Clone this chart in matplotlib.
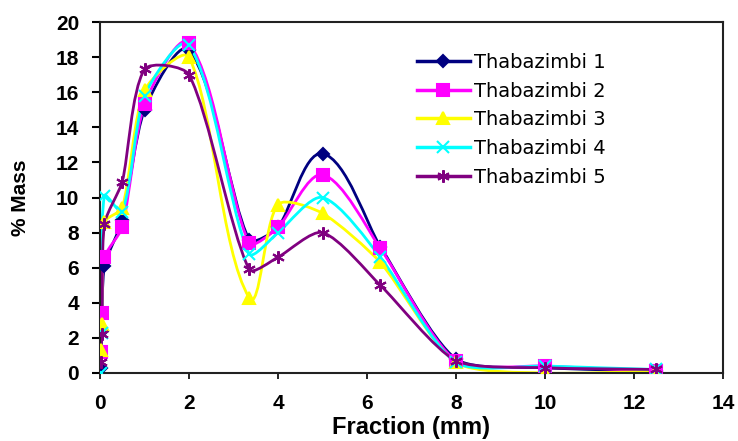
import matplotlib.pyplot as plt
import numpy as np
from matplotlib.path import Path
from matplotlib.patches import PathPatch
from matplotlib.lines import Line2D

# sieve fractions (mm) and % mass for each sample
fraction = [0.02, 0.04, 0.1, 0.5, 1, 2, 3.35, 4, 5, 6.3, 8, 10, 12.5]
thaba_1 = [0.3, 2.4, 6.1, 8.7, 15.0, 18.4, 7.6, 8.3, 12.5, 7.2, 0.8, 0.3, 0.1]
thaba_2 = [1.2, 3.4, 6.6, 8.3, 15.3, 18.8, 7.4, 8.3, 11.3, 7.1, 0.7, 0.4, 0.1]
thaba_3 = [1.3, 2.8, 8.6, 9.4, 16.1, 18.0, 4.3, 9.6, 9.1, 6.3, 0.6, 0.0, 0.1]
thaba_4 = [0.0, 2.3, 10.1, 9.2, 15.8, 18.7, 6.8, 8.0, 10.0, 6.6, 0.6, 0.4, 0.2]
thaba_5 = [0.6, 2.2, 8.5, 10.9, 17.3, 17.0, 5.9, 6.6, 8.0, 5.0, 0.7, 0.3, 0.2]

names = ["Thabazimbi 1", "Thabazimbi 2", "Thabazimbi 3", "Thabazimbi 4", "Thabazimbi 5"]
series = [thaba_1, thaba_2, thaba_3, thaba_4, thaba_5]
colors = ["#000080", "#FF00FF", "#FFFF00", "#00FFFF", "#800080"]
markers = ["D", "s", "^", "x", (6, 2, 0)]
msizes = [6, 8, 9, 8, 9]

plt.rcParams["font.family"] = ["Liberation Sans", "DejaVu Sans"]


def smooth_path(x, y, sx=44.5, sy=17.5, t=0.22):
    # excel-like smoothed line, control points worked out in screen-ish units
    p = np.column_stack([np.asarray(x) * sx, np.asarray(y) * sy]).astype(float)
    n = len(p)

    def tangent(i):
        a = p[max(i - 1, 0)]
        b = p[min(i + 1, n - 1)]
        d = b - a
        L = np.hypot(*d)
        return d / L if L > 0 else d

    verts = [p[0]]
    codes = [Path.MOVETO]
    for i in range(n - 1):
        seg = np.hypot(*(p[i + 1] - p[i]))
        c1 = p[i] + tangent(i) * seg * t
        c2 = p[i + 1] - tangent(i + 1) * seg * t
        verts += [c1, c2, p[i + 1]]
        codes += [Path.CURVE4] * 3
    verts = np.array(verts) / [sx, sy]
    return Path(verts, codes)


fig = plt.figure(figsize=(7.38, 4.41), dpi=100)
ax = fig.add_axes([100 / 738, 68 / 441, 623 / 738, 351 / 441])

handles = []
for ys, c, m, ms, name in zip(series, colors, markers, msizes, names):
    ax.add_patch(PathPatch(smooth_path(fraction, ys), fill=False, edgecolor=c, lw=2))
    ax.plot(fraction, ys, ls="none", marker=m, color=c, markersize=ms,
            markeredgewidth=1.5, zorder=3)
    handles.append(Line2D([], [], color=c, lw=2.5, marker=m, markersize=ms,
                          markeredgewidth=1.5))

ax.set_xlim(0, 14)
ax.set_ylim(0, 20)
ax.set_xticks(range(0, 15, 2))
ax.set_yticks(range(0, 21, 2))
ax.tick_params(axis="y", labelsize=15, length=6, width=1.5, pad=9)
ax.tick_params(axis="x", labelsize=15, length=4, width=1.2, pad=11)
for lab in ax.get_xticklabels() + ax.get_yticklabels():
    lab.set_fontweight("bold")
for s in ax.spines.values():
    s.set_linewidth(1.5)
    s.set_color("#222222")

ax.set_xlabel("Fraction (mm)", fontsize=17, fontweight="bold")
ax.xaxis.set_label_coords(0.5, -0.122)
ax.set_ylabel("% Mass", fontsize=15, fontweight="bold")
ax.yaxis.set_label_coords(-0.112, 0.5)

ax.legend(handles, names, loc="upper left", bbox_to_anchor=(0.481, 0.962),
          frameon=False, prop={"family": "DejaVu Sans", "size": 14},
          handlelength=2.7, handletextpad=0.2, labelspacing=0.5)

fig.savefig("out.png", dpi=100)
